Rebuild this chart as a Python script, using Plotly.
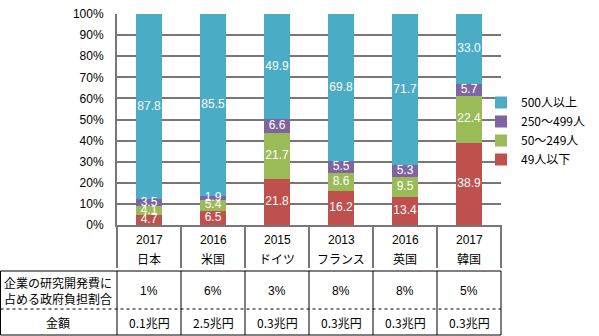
import plotly.graph_objects as go

countries = ["日本", "米国", "ドイツ", "フランス", "英国", "韓国"]
years = ["2017", "2016", "2015", "2013", "2016", "2017"]
series_names = ["49人以下", "50～249人", "250～499人", "500人以上"]
v_small = [4.7, 6.5, 21.8, 16.2, 13.4, 38.9]
v_mid = [4.1, 5.4, 21.7, 8.6, 9.5, 22.4]
v_large = [3.5, 1.9, 6.6, 5.5, 5.3, 5.7]
v_huge = [87.8, 85.5, 49.9, 69.8, 71.7, 33.0]
y_ticks = [0, 10, 20, 30, 40, 50, 60, 70, 80, 90, 100]
y_ticktext = ["0%", "10%", "20%", "30%", "40%", "50%", "60%", "70%", "80%", "90%", "100%"]
gov_share = ["1%", "6%", "3%", "8%", "8%", "5%"]
amounts = ["0.1兆円", "2.5兆円", "0.3兆円", "0.3兆円", "0.3兆円", "0.3兆円"]
row_header1 = "企業の研究開発費に<br>占める政府負担割合"
row_header2 = "金額"

colors = ["#C0504D", "#9BBB59", "#8064A2", "#4BACC6"]
FONT = "Liberation Sans, Noto Sans CJK JP, sans-serif"
JFONT = "Noto Sans CJK JP, Liberation Sans, sans-serif"

W, H = 599, 336
L, R, T, B = 117, 98, 14, 111
PW, PH = W - L - R, H - T - B

def px_x(x):
    return (x - L) / PW

def px_y(y):
    return (T + PH - y) / PH

all_series = [v_small, v_mid, v_large, v_huge]
totals = [sum(s[i] for s in all_series) for i in range(len(countries))]

fig = go.Figure()
for name, vals, col in zip(series_names, all_series, colors):
    fig.add_trace(go.Bar(
        x=countries, y=vals, name=name, marker=dict(color=col, line=dict(width=0)),
        width=0.4, hoverinfo="skip",
    ))

base = [0.0] * len(countries)
for vals in all_series:
    pct = [v / t * 100 for v, t in zip(vals, totals)]
    mids = [b + p / 2 for b, p in zip(base, pct)]
    base = [b + p for b, p in zip(base, pct)]
    fig.add_trace(go.Scatter(
        x=countries, y=mids, mode="text", text=[f"{v:.1f}" for v in vals],
        textposition="middle center", showlegend=False, hoverinfo="skip",
        textfont=dict(color="white", size=12, family=FONT),
    ))

n = len(countries)
shapes = []
GRAY = "#777777"
for k in range(n + 1):
    shapes.append(dict(type="line", xref="paper", yref="paper", x0=k / n, x1=k / n,
                       y0=0, y1=px_y(268), line=dict(color=GRAY, width=2), layer="above"))
ty0, tym, ty1 = px_y(271), px_y(309), px_y(335)
xl = px_x(0.5)
shapes.append(dict(type="line", xref="paper", yref="paper", x0=xl, x1=1, y0=ty0, y1=ty0,
                   line=dict(color="black", width=1)))
shapes.append(dict(type="line", xref="paper", yref="paper", x0=xl, x1=1, y0=ty1, y1=ty1,
                   line=dict(color="black", width=1)))
shapes.append(dict(type="line", xref="paper", yref="paper", x0=xl, x1=1, y0=tym, y1=tym,
                   line=dict(color="black", width=1, dash="dot")))
for xv in [xl] + [k / n for k in range(n + 1)]:
    shapes.append(dict(type="line", xref="paper", yref="paper", x0=xv, x1=xv, y0=ty0, y1=ty1,
                       line=dict(color="black", width=1)))

annotations = []
def ann(x, y, text, family):
    annotations.append(dict(x=x, y=y, xref="paper", yref="paper", text=text,
                            xanchor="center", yanchor="middle", showarrow=False,
                            font=dict(size=12, family=family, color="black")))

for i, (c, yr) in enumerate(zip(countries, years)):
    cx = (i + 0.5) / n
    ann(cx, px_y(240), yr, FONT)
    ann(cx, px_y(258), c, JFONT)
    ann(cx, px_y(291), gov_share[i], FONT)
    ann(cx, px_y(322), amounts[i], JFONT)
ann(px_x(58), px_y(290), row_header1, JFONT)
ann(px_x(58), px_y(322), row_header2, JFONT)

fig.update_layout(
    width=W, height=H, margin=dict(l=L, r=R, t=T, b=B, pad=0, autoexpand=False),
    barmode="stack", barnorm="percent",
    paper_bgcolor="white", plot_bgcolor="white",
    showlegend=True,
    legend=dict(x=px_x(481), y=px_y(131), xanchor="left", yanchor="middle",
                traceorder="reversed", font=dict(size=12, family=JFONT, color="black"),
                itemwidth=30, bgcolor="rgba(0,0,0,0)"),
    xaxis=dict(showticklabels=False, showgrid=False, zeroline=False, showline=True,
               linecolor=GRAY, linewidth=2, range=[-0.5, n - 0.5]),
    yaxis=dict(range=[0, 100], tickvals=y_ticks, ticktext=y_ticktext, showgrid=True,
               gridcolor=GRAY, gridwidth=2,
               zeroline=False, showline=True, linecolor=GRAY, linewidth=2,
               ticks="outside", ticklen=9, tickcolor="rgba(0,0,0,0)",
               tickfont=dict(size=12, family=FONT, color="black")),
    shapes=shapes, annotations=annotations,
)
fig.write_html("out.html")
